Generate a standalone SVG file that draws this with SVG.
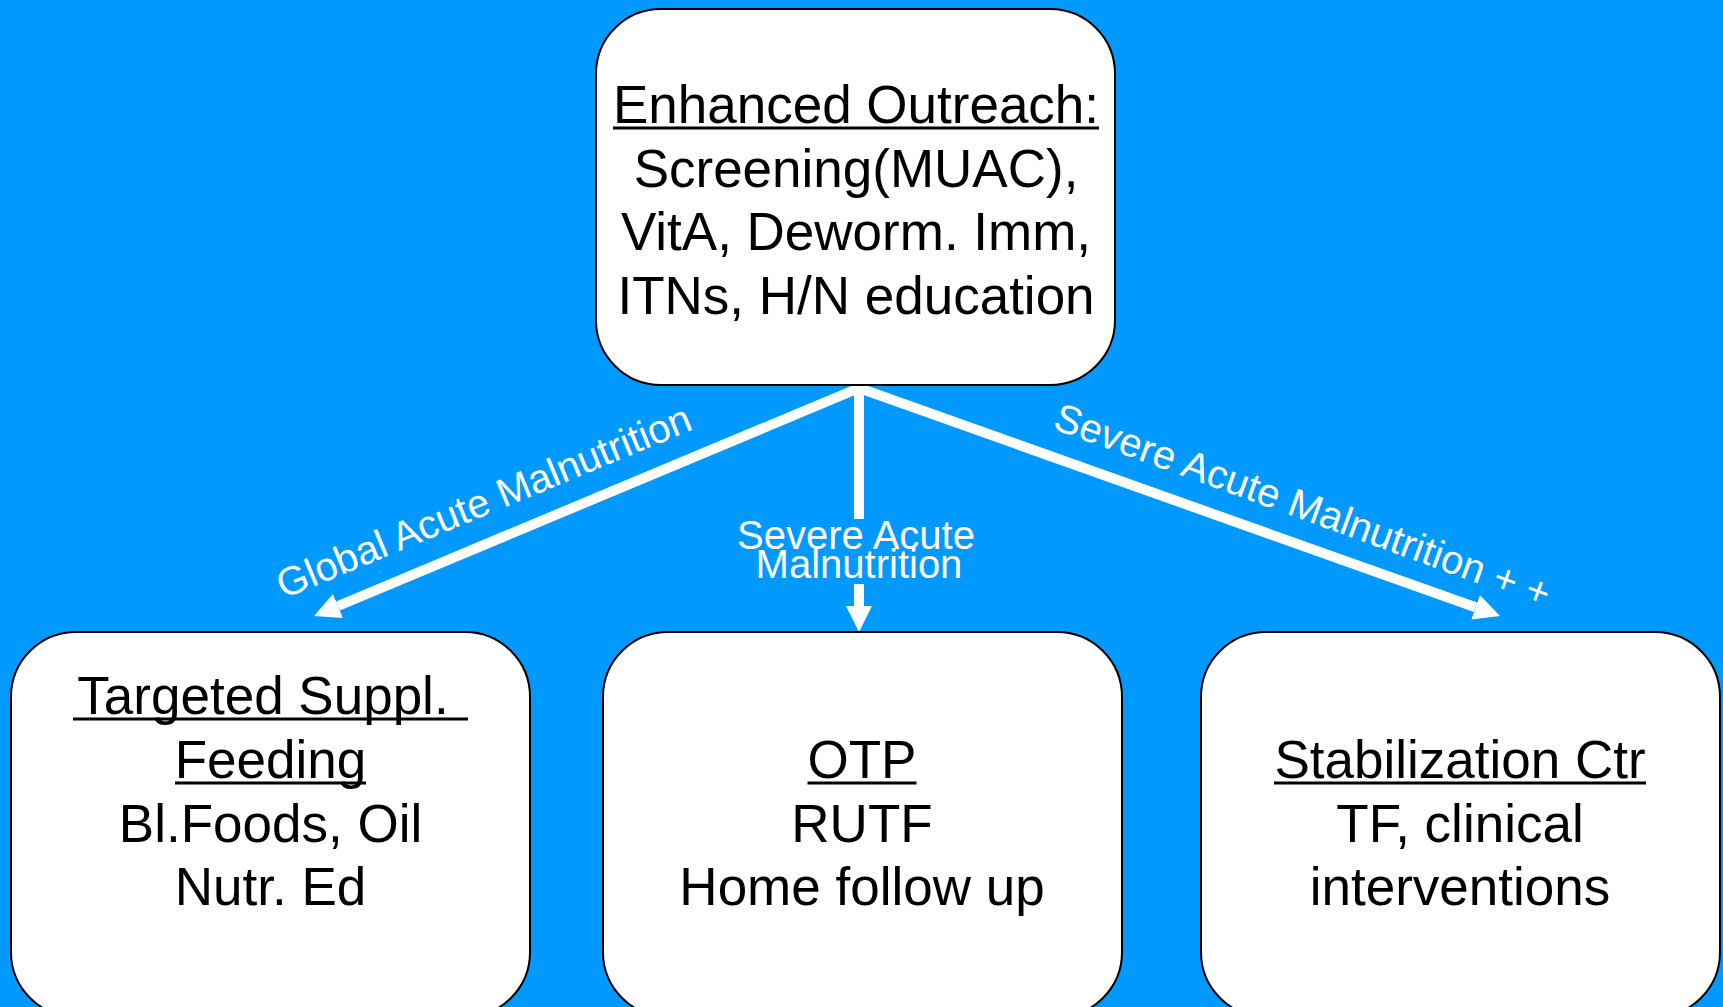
<svg xmlns="http://www.w3.org/2000/svg" width="1723" height="1007" viewBox="0 0 1723 1007">
<style>
.box{fill:#fff;stroke:#000;stroke-width:2}
.t{font-family:"Liberation Sans",Arial,sans-serif;font-size:53px;fill:#000;text-anchor:middle}
.u{stroke:#000;stroke-width:3}
.c{stroke:#fff;stroke-width:10;fill:none}
.lbl{font-family:"Liberation Sans",Arial,sans-serif;font-size:40px;fill:#fff;text-anchor:middle}
</style>
<defs>
<marker id="ah" viewBox="0 0 10 10" refX="0" refY="5" markerWidth="26" markerHeight="28" markerUnits="userSpaceOnUse" orient="auto">
<path d="M0,0 L10,5 L0,10 z" fill="#fff"/>
</marker>
</defs>
<rect width="1723" height="1007" fill="#0099FF"/>
<g id="connectors">
<line class="c" x1="859" y1="388" x2="338" y2="606" marker-end="url(#ah)"/>
<line class="c" x1="859" y1="388" x2="1475.5" y2="607.3" marker-end="url(#ah)"/>
<line class="c" x1="859" y1="386" x2="859" y2="519"/>
<line class="c" x1="859" y1="584" x2="859" y2="606" marker-end="url(#ah)"/>
<text class="lbl" transform="translate(489 514) rotate(-22.5)">Global Acute Malnutrition</text>
<text class="lbl" transform="translate(1298 518) rotate(20)">Severe Acute Malnutrition + +</text>
<text class="lbl" x="856" y="549">Severe Acute</text>
<text class="lbl" x="859" y="578">Malnutrition</text>
</g>
<g id="outreach">
<rect class="box" x="596" y="9" width="519" height="376" rx="65"/>
<text class="t" x="856" y="123">Enhanced Outreach:</text>
<line class="u" x1="613" y1="128" x2="1099" y2="128"/>
<text class="t" x="856" y="187">Screening(MUAC),</text>
<text class="t" x="856" y="250">VitA, Deworm. Imm,</text>
<text class="t" x="856" y="314">ITNs, H/N education</text>
</g>
<g id="tsf">
<rect class="box" x="11" y="632" width="519" height="385" rx="65"/>
<text class="t" x="263" y="714">Targeted Suppl.</text>
<line class="u" x1="73" y1="719" x2="468" y2="719"/>
<text class="t" x="270.5" y="778">Feeding</text>
<line class="u" x1="175" y1="783" x2="366" y2="783"/>
<text class="t" x="270.5" y="842">Bl.Foods, Oil</text>
<text class="t" x="270.5" y="905">Nutr. Ed</text>
</g>
<g id="otp">
<rect class="box" x="603" y="632" width="519" height="385" rx="65"/>
<text class="t" x="862" y="778">OTP</text>
<line class="u" x1="807.5" y1="783" x2="916.5" y2="783"/>
<text class="t" x="862" y="842">RUTF</text>
<text class="t" x="862" y="905">Home follow up</text>
</g>
<g id="stabilization">
<rect class="box" x="1201" y="632" width="519" height="385" rx="65"/>
<text class="t" x="1460" y="778">Stabilization Ctr</text>
<line class="u" x1="1274" y1="783" x2="1646" y2="783"/>
<text class="t" x="1460" y="842">TF, clinical</text>
<text class="t" x="1460" y="905">interventions</text>
</g>
</svg>
